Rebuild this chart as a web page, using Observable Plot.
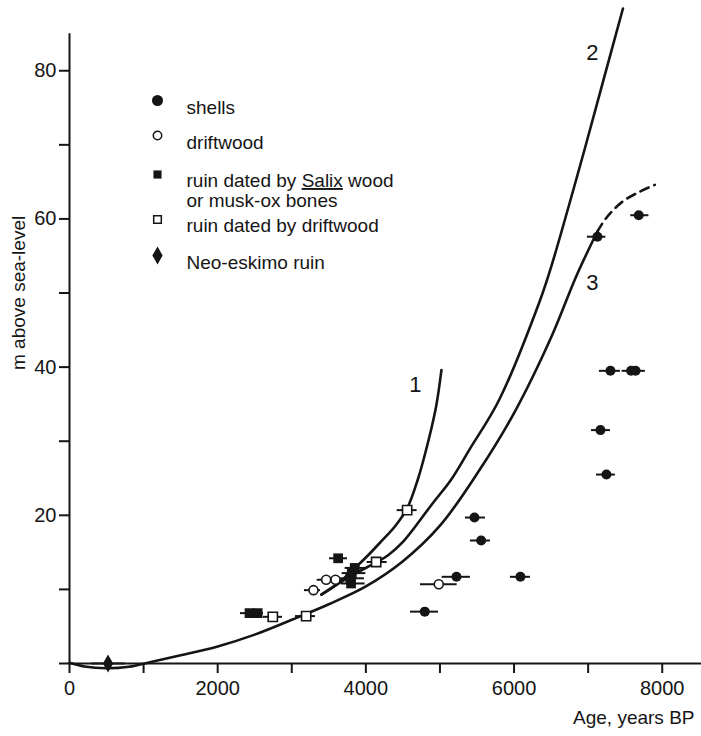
<!DOCTYPE html>
<html><head><meta charset="utf-8">
<script src="https://cdn.jsdelivr.net/npm/d3@7"></script>
<script src="https://cdn.jsdelivr.net/npm/@observablehq/plot@0.6"></script>
<style>
html,body{margin:0;padding:0;background:#fff;}
#chart svg{display:block;}
</style></head><body><div id="chart"></div>
<script>
// ---- data (age in years BP, height in m, error-bar low/high age) ----
const shells = [
  [7125,57.6,6990,7240],[7683,60.5,7575,7820],[7301,39.5,7152,7436],
  [7580,39.5,7459,7700],[7640,39.5,7520,7773],[7166,31.5,7045,7301],
  [7247,25.5,7112,7368],[5466,19.7,5344,5614],[5556,16.6,5411,5681],
  [5223,11.7,5030,5411],[6086,11.7,5951,6221],[4795,7.0,4602,4980]
];
const driftwood = [
  [4984,10.7,4737,5232],[3293,9.9,3171,3387],[3464,11.3,3343,3540],[3590,11.3,3520,3700]
];
const ruinSalix = [
  [2430,6.8,2308,2480],[2540,6.8,2480,2618],[3626,14.2,3509,3752],
  [3800,10.8,3670,3990],[3790,11.5,3660,3980],[3810,12.2,3680,4000],[3850,12.9,3720,4000]
];
const ruinDriftwood = [
  [2744,6.3,2618,2875],[3194,6.4,3050,3320],[4139,13.7,4017,4287],[4557,20.7,4422,4692]
];
const neoEskimo = [[520,0,300,750]];

const curve1 = [[3400,9.3],[3600,10.6],[3800,12.4],[4000,14.3],[4200,16.4],[4400,18.6],[4560,21.0],[4700,24.8],[4850,30.3],[4950,34.8],[5020,39.6]];
const curve2 = [[3400,9.3],[3600,10.6],[3850,12.1],[4150,13.7],[4300,14.6],[4500,16.4],[4900,21.6],[5150,24.8],[5400,28.9],[5800,35.6],[6350,49],[6500,53.5],[6950,69.3],[7200,78.5],[7470,88.4]];
const curve3 = [[0,0.1],[200,-0.4],[500,-0.65],[800,-0.45],[1100,0.2],[1500,1.1],[2000,2.3],[2500,3.9],[3000,5.9],[3500,8.0],[4000,10.4],[4500,13.8],[5000,18.6],[5500,25.6],[6000,33.8],[6500,44],[6850,52.5],[7125,58.3]];
const curve3Dashed = [[7125,58.3],[7250,60.2],[7460,62.3],[7700,63.7],[7900,64.6]];
const curveLabels = [["1",4669,37.6],["2",7058,82.4],["3",7058,51.4]];

const xTicks = [0,1000,2000,3000,4000,5000,6000,7000,8000];
const xTickLabels = ["0","","2000","","4000","","6000","","8000"];
const yTicks = [0,10,20,30,40,50,60,70,80];
const yTickLabels = ["","","20","","40","","60","","80"];
const xLabel = "Age, years BP";
const yLabel = "m above sea-level";
const legendLabels = ["shells","driftwood","ruin dated by Salix wood","or musk-ox bones","ruin dated by driftwood","Neo-eskimo ruin"];

// ---- build ----
const ink = "#151515";
const font = "'Liberation Sans', Arial, sans-serif";
const rows = a => a.map(([age,m,lo,hi]) => ({age,m,lo,hi}));
const pts = a => a.map(([age,m]) => ({age,m}));

const errBars = a => Plot.ruleY(rows(a), {x1:"lo", x2:"hi", y:"m", stroke:ink, strokeWidth:2});
const line = (a, extra={}) => Plot.line(pts(a), {x:"age", y:"m", curve:"catmull-rom", stroke:ink, strokeWidth:2.6, ...extra});

// legend layout (pixel offsets from frame top-left)
const legSymX = 88, legTextX = 117;
const legendSymbols = [
  {dy:92, symbol:"circle", fill:ink, stroke:"none", r:5.5},
  {dy:127, symbol:"circle", fill:"white", stroke:ink, r:4.2},
  {dy:166, symbol:"square", fill:ink, stroke:"none", r:4.6},
  {dy:211, symbol:"square", fill:"white", stroke:ink, r:4.3},
  {dy:247, symbol:"diamond", fill:ink, stroke:"none", r:5.4}
];
const legendTextDy = [92,127,165,185,210,247];

const marks = [
  Plot.ruleY([0], {stroke:ink, strokeWidth:2}),
  Plot.ruleX([0], {y1:0, y2:85, stroke:ink, strokeWidth:2}),
  Plot.axisX(xTicks, {tickSize:10, tickPadding:7, strokeWidth:2, tickFormat:(d,i)=>xTickLabels[i], label:null, fill:ink, fontSize:20}),
  Plot.axisY(yTicks, {tickSize:10, tickPadding:3, strokeWidth:2, tickFormat:(d,i)=>yTickLabels[i], label:null, fill:ink, fontSize:20}),
  line(curve3),
  line(curve3Dashed, {strokeDasharray:"9,6"}),
  line(curve2),
  line(curve1),
  errBars(shells), errBars(driftwood), errBars(ruinSalix), errBars(ruinDriftwood), errBars(neoEskimo),
  Plot.dot(rows(shells), {x:"age", y:"m", symbol:"circle", fill:ink, r:5}),
  Plot.dot(rows(driftwood), {x:"age", y:"m", symbol:"circle", fill:"white", stroke:ink, strokeWidth:1.6, r:4.5}),
  Plot.dot(rows(ruinSalix), {x:"age", y:"m", symbol:"square", fill:ink, r:5.5}),
  Plot.dot(rows(ruinDriftwood), {x:"age", y:"m", symbol:"square", fill:"white", stroke:ink, strokeWidth:1.6, r:5.2}),
  Plot.dot(rows(neoEskimo), {x:"age", y:"m", symbol:"diamond", fill:ink, r:5.4}),
  Plot.text(curveLabels, {x:d=>d[1], y:d=>d[2], text:d=>d[0], fontSize:22, fill:ink}),
  Plot.text([xLabel], {text:d=>d, frameAnchor:"bottom-right", textAnchor:"end", dx:-7, dy:60, fill:ink}),
  Plot.text([yLabel], {text:d=>d, frameAnchor:"left", rotate:-90, dx:-51, dy:34, fill:ink}),
  ...legendSymbols.map(s => Plot.dot({length:1}, {frameAnchor:"top-left", dx:legSymX, dy:s.dy, symbol:s.symbol, fill:s.fill, stroke:s.stroke, strokeWidth:1.5, r:s.r})),
  ...legendLabels.map((t,i) => Plot.text([t], {text:d=>d, frameAnchor:"top-left", textAnchor:"start", dx:legTextX, dy:legendTextDy[i], fill:ink}))
];

const chart = Plot.plot({
  width:701, height:736,
  marginLeft:69, marginRight:0, marginTop:8, marginBottom:73,
  x:{domain:[0,8530]},
  y:{domain:[0,88.4]},
  style:{fontFamily:font, fontSize:"19px", background:"white", color:ink, overflow:"visible"},
  marks
});
// underline "Salix"
chart.querySelectorAll("text").forEach(t => {
  if (t.textContent === legendLabels[2]) {
    t.innerHTML = 'ruin dated by <tspan text-decoration="underline" style="text-decoration:underline">Salix</tspan> wood';
  }
});
document.getElementById("chart").appendChild(chart);
</script></body></html>
